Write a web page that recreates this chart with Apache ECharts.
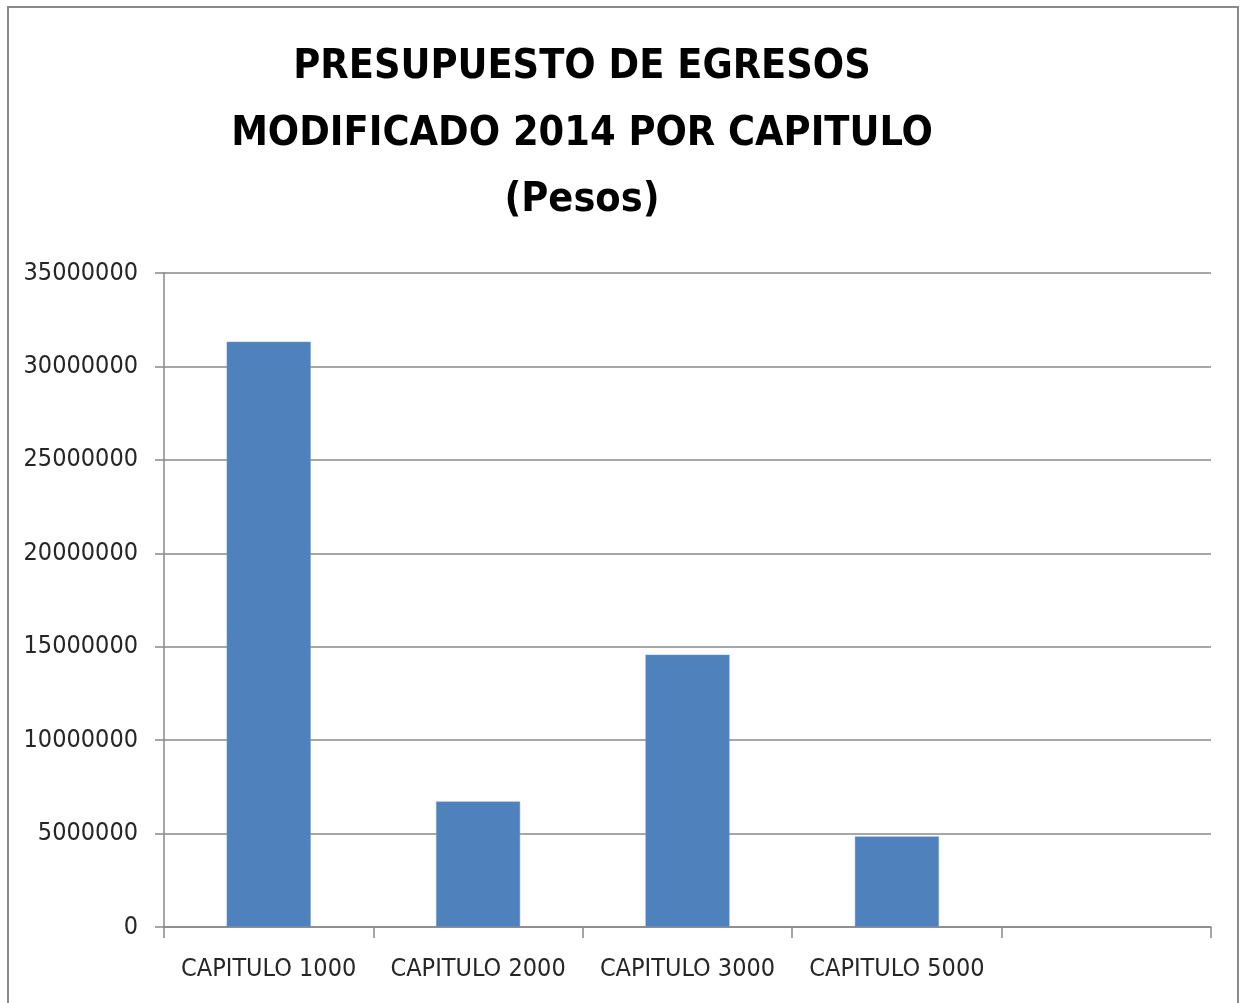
<!DOCTYPE html>
<html>
<head>
<meta charset="utf-8">
<script src="https://cdn.jsdelivr.net/npm/echarts@6/dist/echarts.min.js"></script>
<style>
html,body{margin:0;padding:0;background:#fff;}
#c{width:1241px;height:1003px;}
</style>
</head>
<body>
<div id="c"></div>
<script>
const titleLines = ['PRESUPUESTO DE EGRESOS', 'MODIFICADO 2014 POR CAPITULO', '(Pesos)'];
const categories = ['CAPITULO 1000', 'CAPITULO 2000', 'CAPITULO 3000', 'CAPITULO 5000', ''];
const values = [31320000, 6710000, 14570000, 4840000, null];
const yMin = 0, yMax = 35000000, yInterval = 5000000;

const FONT = "'Liberation Sans Narrow', 'DejaVu Sans Condensed', 'Liberation Sans', sans-serif";
const chart = echarts.init(document.getElementById('c'), null, {renderer: 'canvas'});

const titleCenters = [67, 134, 200];
const graphics = [
  {type: 'rect', shape: {x: 8, y: 7, width: 1230, height: 1010}, style: {fill: 'none', stroke: '#8a8a8a', lineWidth: 2}, silent: true}
];
titleLines.forEach((t, i) => {
  graphics.push({
    type: 'text', x: 582, y: titleCenters[i],
    style: {text: t, fill: '#000', font: 'bold 41px ' + FONT, textAlign: 'center', textVerticalAlign: 'middle'}
  });
});

chart.setOption({
  animation: false,
  backgroundColor: '#fff',
  graphic: graphics,
  grid: {left: 164, right: 30, top: 273, bottom: 76, containLabel: false},
  xAxis: {
    type: 'category',
    data: categories,
    boundaryGap: true,
    axisLine: {lineStyle: {color: '#888', width: 1.5}},
    axisTick: {show: true, alignWithLabel: false, length: 11, lineStyle: {color: '#888', width: 1.5}},
    axisLabel: {color: '#262626', fontFamily: FONT, fontSize: 25, margin: 30, interval: 0}
  },
  yAxis: {
    type: 'value',
    min: yMin, max: yMax, interval: yInterval,
    axisLine: {show: true, lineStyle: {color: '#888', width: 1.5}},
    axisTick: {show: true, length: 9, lineStyle: {color: '#888', width: 1.5}},
    axisLabel: {color: '#262626', fontFamily: FONT, fontSize: 25, margin: 26, formatter: v => String(v)},
    splitLine: {show: true, lineStyle: {color: '#888', width: 1.5}}
  },
  series: [{
    type: 'bar',
    data: values,
    barWidth: 84,
    itemStyle: {color: '#4F81BD', borderColor: '#6f97c9', borderWidth: 0.5}
  }]
});
</script>
</body>
</html>
